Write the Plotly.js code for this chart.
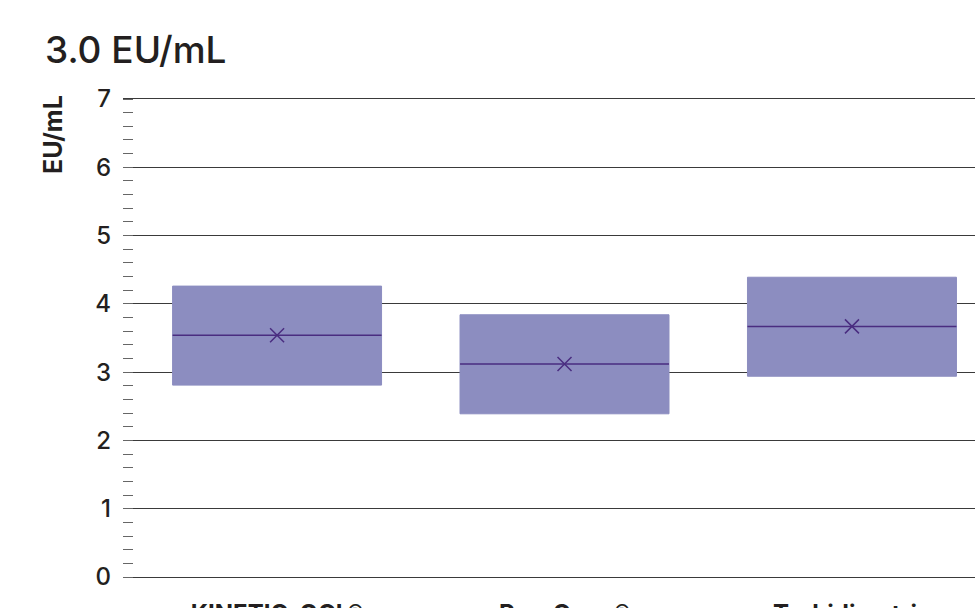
<!DOCTYPE html>
<html><head><meta charset="utf-8">
<script src="https://cdn.plot.ly/plotly-3.0.1.min.js"></script>
<style>html,body{margin:0;padding:0;background:#fff}#chart{width:975px;height:608px}</style>
</head><body><div id="chart"></div>
<script>
const categories = ["KINETIC-QCL®", "PyroGene®", "Turbidimetric"];
const q1Values = [2.81, 2.39, 2.94];
const medianValues = [3.54, 3.12, 3.67];
const q3Values = [4.26, 3.84, 4.39];
const meanValues = [3.54, 3.12, 3.67];
const yTickValues = [0, 1, 2, 3, 4, 5, 6, 7];

const boxFill = '#8c8dc0';
const darkPurple = '#4a2d80';

const traces = [
  {
    type: 'box', x: categories, q1: q1Values, median: medianValues,
    q3: q3Values, lowerfence: q1Values, upperfence: q3Values,
    fillcolor: boxFill, line: {color: boxFill, width: 1}, whiskerwidth: 0,
    width: 0.727, boxpoints: false, hoverinfo: 'skip', showlegend: false
  },
  {
    type: 'box', x: categories, q1: medianValues, median: medianValues,
    q3: medianValues, lowerfence: medianValues, upperfence: medianValues,
    fillcolor: 'rgba(0,0,0,0)', line: {color: darkPurple, width: 1.5}, whiskerwidth: 0,
    width: 0.727, boxpoints: false, hoverinfo: 'skip', showlegend: false
  },
  {
    type: 'scatter', mode: 'markers', x: categories, y: meanValues,
    marker: {symbol: 'x-thin', size: 14, line: {color: darkPurple, width: 1.5}},
    hoverinfo: 'skip', showlegend: false
  }
];

const layout = {
  width: 975, height: 608,
  margin: {l: 123, r: 0, t: 99, b: 31},
  paper_bgcolor: '#fff', plot_bgcolor: '#fff',
  boxmode: 'overlay',
  font: {family: 'Inter, "Noto Sans", sans-serif', color: '#231f20'},
  title: {text: '3.0 EU/mL', x: 45/975, xref: 'container', xanchor: 'left', y: 1, yref: 'container', yanchor: 'top',
          pad: {t: 37}, font: {size: 37, color: '#231f20', family: 'Inter, "Noto Sans", sans-serif', weight: 500}},
  xaxis: {
    type: 'category', range: [-0.536, 2.428], showgrid: false, zeroline: false,
    showline: true, mirror: true, linecolor: '#3a3a3a', linewidth: 1,
    ticks: '', ticklabelstandoff: 15,
    tickfont: {size: 24, color: '#231f20', family: 'Inter, sans-serif', weight: 'bold'}
  },
  yaxis: {
    range: [0, 7], tickvals: yTickValues, ticktext: yTickValues.map(String),
    showgrid: true, gridcolor: '#3a3a3a', gridwidth: 1, zeroline: false, showline: false,
    ticks: '', ticklabelstandoff: 11,
    tickfont: {size: 24, color: '#231f20', family: 'Inter, sans-serif', weight: 500},
    minor: {dtick: 0.2, ticks: 'inside', ticklen: 10, tickcolor: '#666', tickwidth: 1, showgrid: false}
  },
  annotations: [{
    text: 'EU/mL', textangle: -90, xref: 'paper', yref: 'paper', x: -0.062, y: 1.012,
    xanchor: 'right', yanchor: 'top', showarrow: false,
    font: {size: 25, color: '#231f20', family: 'Inter, sans-serif', weight: 'bold'}
  }]
};

Plotly.newPlot('chart', traces, layout, {displayModeBar: false, staticPlot: true});
</script></body></html>
